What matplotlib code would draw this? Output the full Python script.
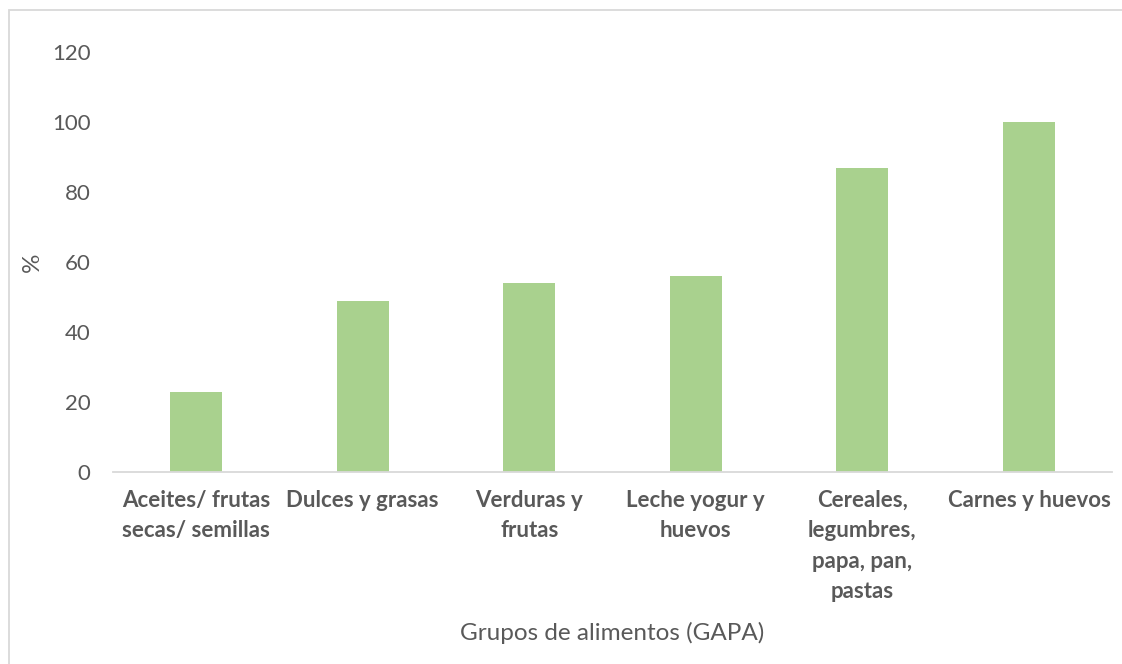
import matplotlib
matplotlib.use("Agg")
import matplotlib.pyplot as plt
from matplotlib.patches import Rectangle

categories = ["Aceites/ frutas\nsecas/ semillas", "Dulces y grasas", "Verduras y\nfrutas",
              "Leche yogur y\nhuevos", "Cereales,\nlegumbres,\npapa, pan,\npastas", "Carnes y huevos"]
values = [23, 49, 54, 56, 87, 100]
yticks = [0, 20, 40, 60, 80, 100, 120]

FONT = "Lato"
TXT = "#595959"
plt.rcParams['font.family'] = [FONT, 'DejaVu Sans']

fig = plt.figure(figsize=(11.22, 6.64), dpi=100)
ax = fig.add_axes([112.7/1122, (664-472)/664, (1112.3-112.7)/1122, (472-52)/664])

x = list(range(len(categories)))
ax.bar(x, values, width=0.312, color="#A9D18E", zorder=2)
ax.set_xlim(-0.5, len(categories)-0.5)
ax.set_ylim(0, 120)
ax.set_yticks(yticks)
ax.set_yticklabels([str(v) for v in yticks], fontsize=16, color=TXT)
ax.set_xticks(x)
ax.set_xticklabels(categories, fontsize=16, color=TXT, fontweight='bold', linespacing=1.55, va='top')
ax.tick_params(axis='both', length=0)
ax.tick_params(axis='y', pad=16)
ax.tick_params(axis='x', pad=13)
for s in ['top', 'right', 'left']:
    ax.spines[s].set_visible(False)
ax.spines['bottom'].set_color("#D9D9D9")
ax.spines['bottom'].set_linewidth(1.3)

fig.text(32/1122, 1-262/664, "%", rotation=90, fontsize=17.5, color=TXT, ha='center', va='center')
fig.text(612/1122, 1-633/664, "Grupos de alimentos (GAPA)", fontsize=17.5, color=TXT, ha='center', va='center')

# outer chart border
fig.add_artist(Rectangle((8.5/1122, -0.1), 1.2, 1 - 10/664 + 0.1, transform=fig.transFigure,
                         fill=False, edgecolor="#D9D9D9", linewidth=1.3))

fig.savefig("out.png", dpi=100, facecolor="white")
